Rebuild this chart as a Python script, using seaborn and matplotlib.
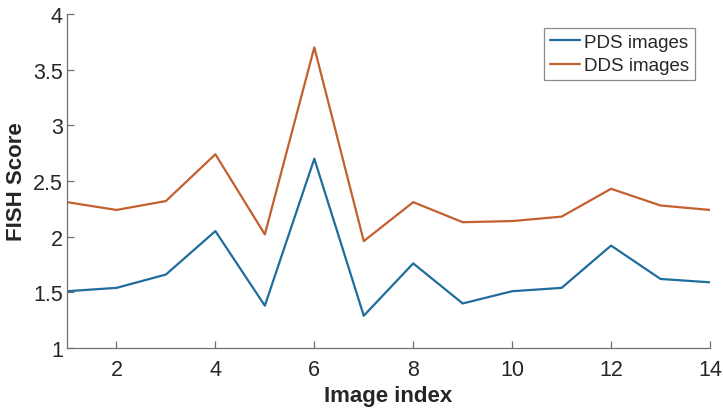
import matplotlib
matplotlib.use("Agg")
import matplotlib.pyplot as plt
import seaborn as sns
import pandas as pd

image_index = list(range(1, 15))
pds_scores = [1.51, 1.54, 1.66, 2.05, 1.38, 2.70, 1.29, 1.76, 1.40, 1.51, 1.54, 1.92, 1.62, 1.59]
dds_scores = [2.31, 2.24, 2.32, 2.74, 2.02, 3.70, 1.96, 2.31, 2.13, 2.14, 2.18, 2.43, 2.28, 2.24]
series_names = ["PDS images", "DDS images"]
x_ticks = [2, 4, 6, 8, 10, 12, 14]
y_ticks = [1, 1.5, 2, 2.5, 3, 3.5, 4]

df = pd.DataFrame({
    "Image index": image_index * 2,
    "FISH Score": pds_scores + dds_scores,
    "Series": [series_names[0]] * len(image_index) + [series_names[1]] * len(image_index),
})

sns.set_style("white")
plt.rcParams["font.family"] = ["Liberation Sans", "DejaVu Sans"]

fig = plt.figure(figsize=(7.23, 4.10), dpi=100)
ax = fig.add_axes([67 / 723, 61 / 410, 643 / 723, 334 / 410])

palette = {"PDS images": "#1f6d9c", "DDS images": "#c45f30"}
sns.lineplot(data=df, x="Image index", y="FISH Score", hue="Series",
             palette=palette, linewidth=1.6, ax=ax)

ax.set_xlim(1, 14)
ax.set_ylim(1, 4)
ax.set_xticks(x_ticks)
ax.set_yticks(y_ticks)
ax.set_yticklabels([f"{v:g}" for v in y_ticks])

for side in ["top", "right"]:
    ax.spines[side].set_visible(False)
for side in ["left", "bottom"]:
    ax.spines[side].set_color("#707070")
    ax.spines[side].set_linewidth(0.9)

ax.tick_params(axis="both", direction="in", length=5, width=0.9, color="#707070",
               labelsize=15.5, labelcolor="#262626")
ax.tick_params(axis="x", bottom=True, pad=8)
ax.tick_params(axis="y", left=True, pad=3)

ax.set_xlabel("Image index", fontsize=16, fontweight="bold", color="#262626")
ax.set_ylabel("FISH Score", fontsize=16, fontweight="bold", color="#262626")
ax.xaxis.set_label_coords((388 - 67) / 643, (349 - 397) / 334)
ax.xaxis.label.set_va("center")
ax.yaxis.set_label_coords((17 - 67) / 643, 0.5)
ax.yaxis.label.set_va("center")

leg = ax.legend(loc="upper right", bbox_to_anchor=(0.977, 0.958), borderaxespad=0,
                fontsize=13.5, frameon=True, fancybox=False, handlelength=1.6,
                handletextpad=0.25, borderpad=0.3, labelspacing=0.35)
leg.get_frame().set_edgecolor("#707070")
leg.get_frame().set_linewidth(0.9)
for t in leg.get_texts():
    t.set_color("#262626")
for line in leg.get_lines():
    line.set_linewidth(1.6)

fig.savefig("out.png", dpi=100)
